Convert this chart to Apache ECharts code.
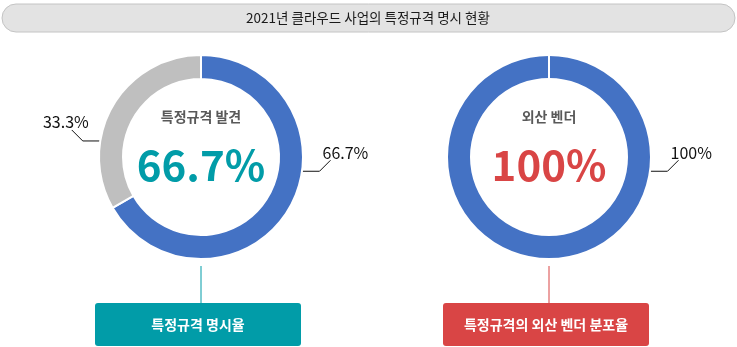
<!DOCTYPE html>
<html>
<head>
<meta charset="utf-8">
<script src="https://cdn.jsdelivr.net/npm/echarts@6/dist/echarts.min.js"></script>
<style>
  html, body { margin: 0; padding: 0; background: #fff; }
  #chart { width: 737px; height: 347px; }
</style>
</head>
<body>
<div id="chart"></div>
<script>
// Chart data
const chartTitle = '2021년 클라우드 사업의 특정규격 명시 현황';
const specNames = ['특정규격 발견', '특정규격 미발견'];
const specValues = [66.7, 33.3];
const vendorNames = ['외산 벤더'];
const vendorValues = [100];
const boxLabels = ['특정규격 명시율', '특정규격의 외산 벤더 분포율'];

// Layout and styling
const FONT = '"Noto Sans CJK KR", "Noto Sans", sans-serif';
const R_IN = 78, R_OUT = 102;
const donuts = [
  { cx: 201, cy: 157, accent: '#019ca8', colors: ['#4472c4', '#bfbfbf'] },
  { cx: 549, cy: 157, accent: '#d94545', colors: ['#4472c4'] }
];
// angle (deg, measured from 3 o'clock, positive downward) where each label line leaves the ring
const labelAnchors = [[8, 189], [8]];

const chart = echarts.init(document.getElementById('chart'), null, { renderer: 'canvas' });

function makeLabelLayout(seriesIdx) {
  const d = donuts[seriesIdx];
  return function (params) {
    const ang = labelAnchors[seriesIdx][params.dataIndex] * Math.PI / 180;
    const sx = d.cx + (R_OUT + 0.5) * Math.cos(ang);
    const sy = d.cy + (R_OUT + 0.5) * Math.sin(ang);
    const right = Math.cos(ang) >= 0;
    const dir = right ? 1 : -1;
    const ex = sx + dir * 17;
    const tx = ex + dir * 11;
    const ty = sy - 11;
    return right
      ? { x: ex + 3, y: sy - 18, align: 'left', verticalAlign: 'middle',
          labelLinePoints: [[sx, sy], [ex, sy], [tx, ty]] }
      : { x: tx + 17, y: sy - 19, align: 'right', verticalAlign: 'middle',
          labelLinePoints: [[sx, sy], [ex, sy], [tx, ty]] };
  };
}

function pieSeries(idx, names, values) {
  const d = donuts[idx];
  return {
    type: 'pie',
    center: [d.cx, d.cy],
    radius: [R_IN, R_OUT],
    startAngle: 90,
    clockwise: true,
    silent: true,
    animation: false,
    itemStyle: { borderColor: '#ffffff', borderWidth: 2 },
    label: {
      show: true,
      position: 'outside',
      formatter: p => p.value + '%',
      fontFamily: FONT,
      fontSize: 16,
      color: '#111'
    },
    labelLine: { show: true, lineStyle: { color: '#111', width: 1 } },
    labelLayout: makeLabelLayout(idx),
    data: names.map((n, i) => ({ name: n, value: values[i], itemStyle: { color: d.colors[i] } }))
  };
}

const graphics = [];
// title pill
graphics.push({
  type: 'rect',
  shape: { x: 2, y: 4, width: 733, height: 28, r: 14 },
  style: { fill: '#e3e3e3', stroke: '#c4c4c4', lineWidth: 1 },
  z: 1
});
graphics.push({
  type: 'text',
  x: 368, y: 18,
  style: {
    text: chartTitle, fill: '#1a1a1a', font: '13.5px ' + FONT,
    textAlign: 'center', textVerticalAlign: 'middle'
  },
  z: 2
});

const centerCaptions = [specNames[0], vendorNames[0]];
const centerValues = [specValues[0], vendorValues[0]];
donuts.forEach((d, i) => {
  // caption and headline value inside the ring
  graphics.push({
    type: 'text', x: d.cx, y: d.cy - 40,
    style: {
      text: centerCaptions[i], fill: '#595959', font: 'bold 14px ' + FONT,
      textAlign: 'center', textVerticalAlign: 'middle'
    }, z: 5
  });
  graphics.push({
    type: 'text', x: d.cx, y: d.cy + 8,
    style: {
      text: centerValues[i] + '%', fill: d.accent, font: 'bold 42px ' + FONT,
      textAlign: 'center', textVerticalAlign: 'middle'
    }, z: 5
  });
  // connector down to the caption box
  graphics.push({
    type: 'line',
    shape: { x1: d.cx, y1: d.cy + R_OUT + 7, x2: d.cx, y2: 303 },
    style: { stroke: d.accent, lineWidth: 1 }, z: 3
  });
  graphics.push({
    type: 'rect',
    shape: { x: d.cx - 106, y: 303, width: 206, height: 43, r: 3 },
    style: { fill: d.accent }, z: 3
  });
  graphics.push({
    type: 'text', x: d.cx - 3, y: 325,
    style: {
      text: boxLabels[i], fill: '#fff', font: 'bold 14px ' + FONT,
      textAlign: 'center', textVerticalAlign: 'middle'
    }, z: 4
  });
});
// seam at 12 o'clock of the full ring
graphics.push({
  type: 'line',
  shape: { x1: donuts[1].cx, y1: donuts[1].cy - R_OUT - 2, x2: donuts[1].cx, y2: donuts[1].cy - R_IN + 2 },
  style: { stroke: '#fff', lineWidth: 2 }, z: 10
});

chart.setOption({
  backgroundColor: '#ffffff',
  animation: false,
  graphic: graphics,
  series: [
    pieSeries(0, specNames, specValues),
    pieSeries(1, vendorNames, vendorValues)
  ]
});
</script>
</body>
</html>
